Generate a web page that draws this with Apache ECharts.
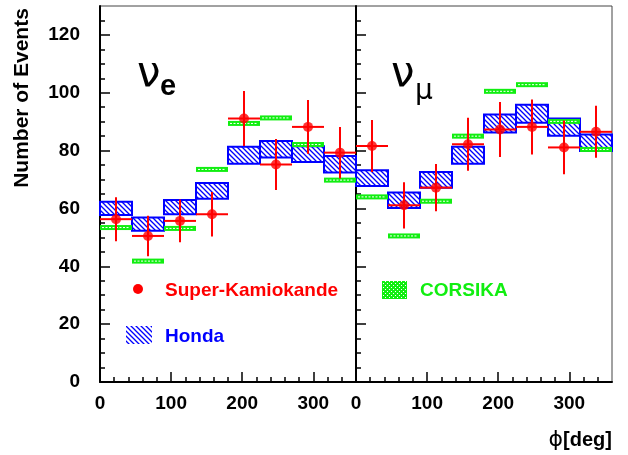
<!DOCTYPE html>
<html><head><meta charset="utf-8">
<script src="https://cdn.jsdelivr.net/npm/echarts@6/dist/echarts.min.js"></script>
<style>html,body{margin:0;padding:0;background:#fff}#c{width:628px;height:455px}</style>
</head><body><div id="c"></div>
<script>
// ---- data ----
const binCenters = [22.5, 67.5, 112.5, 157.5, 202.5, 247.5, 292.5, 337.5];
const binHalfWidth = 22.5;
const xTicks = [0, 100, 200, 300];
const yTicks = [0, 20, 40, 60, 80, 100, 120];

const nueSK      = [56.3, 50.5, 55.7, 58.0, 91.1, 75.2, 88.2, 79.3];
const nueSKerr   = [7.6, 7.0, 7.4, 7.7, 9.5, 8.8, 9.3, 8.9];
const nueHondaLo = [57.7, 52.3, 58.0, 63.4, 75.5, 77.6, 76.1, 72.4];
const nueHondaHi = [62.3, 56.9, 62.9, 68.8, 81.3, 83.3, 81.5, 78.1];
const nueCorsika = [53.4, 41.8, 53.1, 73.5, 89.4, 91.3, 82.1, 69.8];

const numuSK      = [81.6, 61.1, 67.2, 82.2, 87.3, 88.2, 81.1, 86.5];
const numuSKerr   = [9.0, 8.0, 8.2, 9.2, 9.5, 9.5, 9.3, 9.0];
const numuHondaLo = [67.8, 60.2, 67.2, 75.5, 86.3, 89.6, 85.1, 79.9];
const numuHondaHi = [73.2, 65.5, 72.6, 81.3, 92.5, 95.9, 91.1, 85.6];
const numuCorsika = [64.0, 50.5, 62.5, 85.0, 100.5, 102.8, 90.1, 80.4];

const RED = '#ff0000', BLUE = '#0000ff', GREEN = '#11ee11';
const FONT = 'Liberation Sans, Arial, sans-serif';

function hatchPattern() {
  const c = document.createElement('canvas');
  c.width = 5; c.height = 5;
  const g = c.getContext('2d');
  g.fillStyle = '#fff'; g.fillRect(0, 0, 5, 5);
  g.strokeStyle = BLUE; g.lineWidth = 1.3;
  g.beginPath();
  g.moveTo(-1, -1); g.lineTo(6, 6);
  g.moveTo(-1, 4); g.lineTo(2, 7);
  g.moveTo(4, -1); g.lineTo(7, 2);
  g.stroke();
  return c;
}
function crossPattern() {
  const c = document.createElement('canvas');
  c.width = 4; c.height = 4;
  const g = c.getContext('2d');
  g.fillStyle = GREEN; g.fillRect(0, 0, 4, 4);
  g.fillStyle = '#fff';
  g.fillRect(1, 1, 1, 1); g.fillRect(3, 3, 1, 1);
  return c;
}
const hatchImg = hatchPattern();
const crossImg = crossPattern();

function hondaSeries(idx, lo, hi) {
  return {
    type: 'custom', xAxisIndex: idx, yAxisIndex: idx, z: 2,
    data: binCenters.map((x, i) => [x, lo[i], hi[i]]),
    renderItem: function (params, api) {
      const x = api.value(0);
      const p0 = api.coord([x - binHalfWidth, api.value(2)]);
      const p1 = api.coord([x + binHalfWidth, api.value(1)]);
      return {
        type: 'rect',
        shape: { x: p0[0], y: p0[1], width: p1[0] - p0[0], height: p1[1] - p0[1] },
        style: { fill: { image: hatchImg, repeat: 'repeat' }, stroke: BLUE, lineWidth: 2 }
      };
    }
  };
}
function corsikaSeries(idx, vals) {
  return {
    type: 'custom', xAxisIndex: idx, yAxisIndex: idx, z: 3,
    data: binCenters.map((x, i) => [x, vals[i]]),
    renderItem: function (params, api) {
      const x = api.value(0);
      const p0 = api.coord([x - binHalfWidth, api.value(1)]);
      const p1 = api.coord([x + binHalfWidth, api.value(1)]);
      return {
        type: 'group',
        children: [
          { type: 'rect', shape: { x: p0[0], y: p0[1] - 2.5, width: p1[0] - p0[0], height: 5 },
            style: { fill: GREEN } },
          { type: 'line', shape: { x1: p0[0] + 2, y1: p0[1], x2: p1[0] - 2, y2: p0[1] },
            style: { stroke: '#fff', lineWidth: 1, lineDash: [2, 1.5] } }
        ]
      };
    }
  };
}
function skErrSeries(idx, vals, errs) {
  return {
    type: 'custom', xAxisIndex: idx, yAxisIndex: idx, z: 4,
    data: binCenters.map((x, i) => [x, vals[i], errs[i]]),
    renderItem: function (params, api) {
      const x = api.value(0), v = api.value(1), e = api.value(2);
      const a = api.coord([x - binHalfWidth, v]);
      const b = api.coord([x + binHalfWidth, v]);
      const t = api.coord([x, v + e]);
      const d = api.coord([x, v - e]);
      return {
        type: 'group',
        children: [
          { type: 'line', shape: { x1: a[0], y1: a[1], x2: b[0], y2: b[1] }, style: { stroke: RED, lineWidth: 2 } },
          { type: 'line', shape: { x1: t[0], y1: t[1], x2: d[0], y2: d[1] }, style: { stroke: RED, lineWidth: 2 } }
        ]
      };
    }
  };
}
function skPointSeries(idx, vals) {
  return {
    type: 'scatter', xAxisIndex: idx, yAxisIndex: idx, z: 5,
    symbol: 'circle', symbolSize: 10,
    itemStyle: { color: RED },
    data: binCenters.map((x, i) => [x, vals[i]])
  };
}

function xAxis(idx) {
  return {
    type: 'value', gridIndex: idx, min: 0, max: 360, interval: 100,
    axisLine: { show: true, onZero: false, lineStyle: { color: '#000', width: 2 } },
    axisTick: { show: true, inside: true, length: 10, lineStyle: { color: '#000', width: 1.5 },
      customValues: xTicks },
    minorTick: { show: true, splitNumber: 5, length: 5, lineStyle: { color: '#000', width: 1.5 } },
    splitLine: { show: false },
    axisLabel: { show: true, customValues: xTicks, color: '#000', fontFamily: FONT, fontWeight: 'bold', fontSize: 19, margin: 12 }
  };
}
function yAxis(idx, labels) {
  return {
    type: 'value', gridIndex: idx, min: 0, max: 130, interval: 20,
    axisLine: { show: true, lineStyle: { color: '#000', width: 2 } },
    axisTick: { show: true, inside: true, length: 10, lineStyle: { color: '#000', width: 1.5 },
      customValues: yTicks },
    minorTick: { show: true, splitNumber: 4, length: 5, lineStyle: { color: '#000', width: 1.5 } },
    splitLine: { show: false },
    axisLabel: { show: labels, customValues: yTicks, color: '#000', fontFamily: FONT, fontWeight: 'bold', fontSize: 19, margin: 20 }
  };
}

const chart = echarts.init(document.getElementById('c'), null, { renderer: 'canvas' });
chart.setOption({
  backgroundColor: '#fff',
  animation: false,
  grid: [
    { left: 100, right: 272, top: 6, bottom: 73, show: true, borderColor: '#444', borderWidth: 1 },
    { left: 356, right: 16, top: 6, bottom: 73, show: true, borderColor: '#444', borderWidth: 1 }
  ],
  xAxis: [xAxis(0), xAxis(1)],
  yAxis: [yAxis(0, true), yAxis(1, false)],
  series: [
    hondaSeries(0, nueHondaLo, nueHondaHi),
    corsikaSeries(0, nueCorsika),
    skErrSeries(0, nueSK, nueSKerr),
    skPointSeries(0, nueSK),
    hondaSeries(1, numuHondaLo, numuHondaHi),
    corsikaSeries(1, numuCorsika),
    skErrSeries(1, numuSK, numuSKerr),
    skPointSeries(1, numuSK)
  ],
  graphic: [
    { type: 'text', x: 22, y: 98, rotation: Math.PI / 2,
      style: { text: 'Number of Events', fill: '#000', font: 'bold 21px ' + FONT, textAlign: 'center', textVerticalAlign: 'middle' } },
    { type: 'text', x: 612, y: 440,
      style: { text: '{a|ϕ}{b|[deg]}', textAlign: 'right', textVerticalAlign: 'middle',
        rich: { a: { fontSize: 22, fontFamily: 'DejaVu Sans', fill: '#000' }, b: { fontSize: 20, fontWeight: 'bold', fontFamily: FONT, fill: '#000' } } } },
    { type: 'text', x: 137, y: 75,
      style: { text: 'ν', font: '42px DejaVu Sans', fill: '#000', textAlign: 'left', textVerticalAlign: 'middle' } },
    { type: 'text', x: 160, y: 87,
      style: { text: 'e', font: 'bold 29px ' + FONT, fill: '#000', textAlign: 'left', textVerticalAlign: 'middle' } },
    { type: 'text', x: 391, y: 75,
      style: { text: 'ν', font: '42px DejaVu Sans', fill: '#000', textAlign: 'left', textVerticalAlign: 'middle' } },
    { type: 'text', x: 415, y: 92,
      style: { text: 'μ', font: '28px DejaVu Sans', fill: '#000', textAlign: 'left', textVerticalAlign: 'middle' } },
    { type: 'circle', shape: { cx: 138, cy: 289, r: 5 }, style: { fill: RED } },
    { type: 'text', x: 165, y: 291,
      style: { text: 'Super-Kamiokande', font: 'bold 19px ' + FONT, fill: RED, textAlign: 'left', textVerticalAlign: 'middle' } },
    { type: 'rect', shape: { x: 126, y: 326, width: 26, height: 18 }, style: { fill: { image: hatchImg, repeat: 'repeat' } } },
    { type: 'text', x: 165, y: 337,
      style: { text: 'Honda', font: 'bold 19px ' + FONT, fill: BLUE, textAlign: 'left', textVerticalAlign: 'middle' } },
    { type: 'rect', shape: { x: 382, y: 281, width: 25, height: 18 }, style: { fill: { image: crossImg, repeat: 'repeat' } } },
    { type: 'text', x: 420, y: 291,
      style: { text: 'CORSIKA', font: 'bold 19px ' + FONT, fill: GREEN, textAlign: 'left', textVerticalAlign: 'middle' } }
  ]
});
</script></body></html>
